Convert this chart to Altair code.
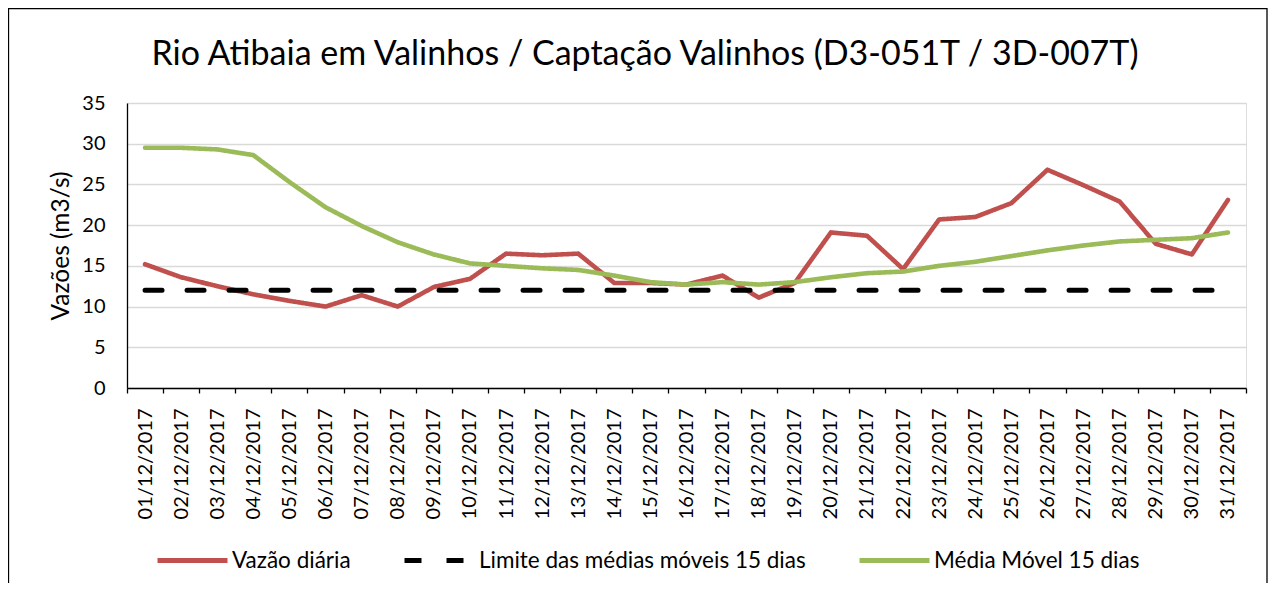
import altair as alt
import pandas as pd

days = [f"{d:02d}/12/2017" for d in range(1, 32)]
vazao = [15.2, 13.6, 12.5, 11.5, 10.7, 10.0, 11.4, 10.0, 12.4, 13.4, 16.5,
         16.3, 16.5, 12.9, 12.9, 12.7, 13.8, 11.1, 12.9, 19.1, 18.7, 14.6,
         20.7, 21.0, 22.7, 26.8, 24.9, 22.9, 17.7, 16.4, 23.1]
limite = [12.0] * 31
media = [29.5, 29.5, 29.3, 28.6, 25.3, 22.2, 19.9, 17.9, 16.4, 15.3, 15.0,
         14.7, 14.5, 13.8, 13.0, 12.7, 13.0, 12.7, 13.0, 13.6, 14.1, 14.3,
         15.0, 15.5, 16.2, 16.9, 17.5, 18.0, 18.2, 18.4, 19.1]

series_names = ["Vazão diária", "Limite das médias móveis 15 dias", "Média Móvel 15 dias"]
colors = ["#C0504D", "#000000", "#9BBB59"]
dashes = [[1, 0], [17, 25], [1, 0]]

rows = []
for name, vals in zip(series_names, [vazao, limite, media]):
    for d, v in zip(days, vals):
        rows.append({"dia": d, "valor": v, "serie": name})
df = pd.DataFrame(rows)

FONT = "Lato"
W, H = 1119, 285

x_enc = alt.X("dia:O", sort=days, bandPosition=0.5,
              scale=alt.Scale(type="band", paddingInner=0, paddingOuter=0),
              axis=alt.Axis(title=None, labelAngle=270, tickBand="extent",
                            tickSize=5, tickColor="black", tickWidth=1.3,
                            domainColor="black", domainWidth=1.3,
                            labelPadding=15, labelFont=FONT, labelFontSize=20,
                            labelColor="black", grid=False))
y_enc = alt.Y("valor:Q",
              scale=alt.Scale(domain=[0, 35], nice=False),
              axis=alt.Axis(title="Vazões (m3/s)", values=list(range(0, 36, 5)),
                            ticks=False, labelPadding=22, labelFont=FONT,
                            labelFontSize=20, labelColor="black",
                            domainColor="black", domainWidth=1.3,
                            gridColor="#D9D9D9", gridWidth=1.5,
                            titleFont=FONT, titleFontSize=24.5, titleFontWeight="normal",
                            titleColor="black", titleX=-66, titleY=H / 2,
                            titleAngle=270, titleAlign="center", titleBaseline="middle"))
legend = alt.Legend(title=None, orient="none", legendX=28, legendY=420,
                    direction="horizontal", symbolType="stroke", symbolSize=4900,
                    symbolStrokeWidth=5, labelFont=FONT, labelFontSize=22.5,
                    labelColor="black", labelOffset=2, columnPadding=43, padding=0,
                    labelLimit=0)
color_enc = alt.Color("serie:N", scale=alt.Scale(domain=series_names, range=colors),
                      legend=legend, sort=series_names)
dash_enc = alt.StrokeDash("serie:N", scale=alt.Scale(domain=series_names, range=dashes),
                          legend=legend, sort=series_names)

layers = []
for name in series_names:
    layers.append(
        alt.Chart(df).transform_filter(alt.datum.serie == name)
        .mark_line(strokeWidth=4.6 if name != series_names[1] else 5,
                   strokeCap="round", strokeJoin="round")
        .encode(x=x_enc, y=y_enc, color=color_enc, strokeDash=dash_enc)
    )

border = alt.Chart(pd.DataFrame({"k": [0]})).mark_rect(
    filled=False, stroke="black", strokeWidth=1.3
).encode(x=alt.value(-118.5), x2=alt.value(1140), y=alt.value(-94.5), y2=alt.value(520))

chart = alt.layer(border, *layers).properties(
    width=W, height=H,
    title=alt.TitleParams("Rio Atibaia em Valinhos / Captação Valinhos (D3-051T / 3D-007T)",
                          font=FONT, fontSize=34, fontWeight="normal", color="black",
                          anchor="middle", dx=-41.5, dy=91.5, offset=0, baseline="alphabetic"),
    autosize=alt.AutoSizeParams(type="none"),
    padding={"left": 119, "top": 95, "right": 22, "bottom": 195},
).configure_view(stroke="black", strokeWidth=1.3).configure(background="white")

chart.save("out.html", embed_options={"renderer": "svg", "actions": False})
